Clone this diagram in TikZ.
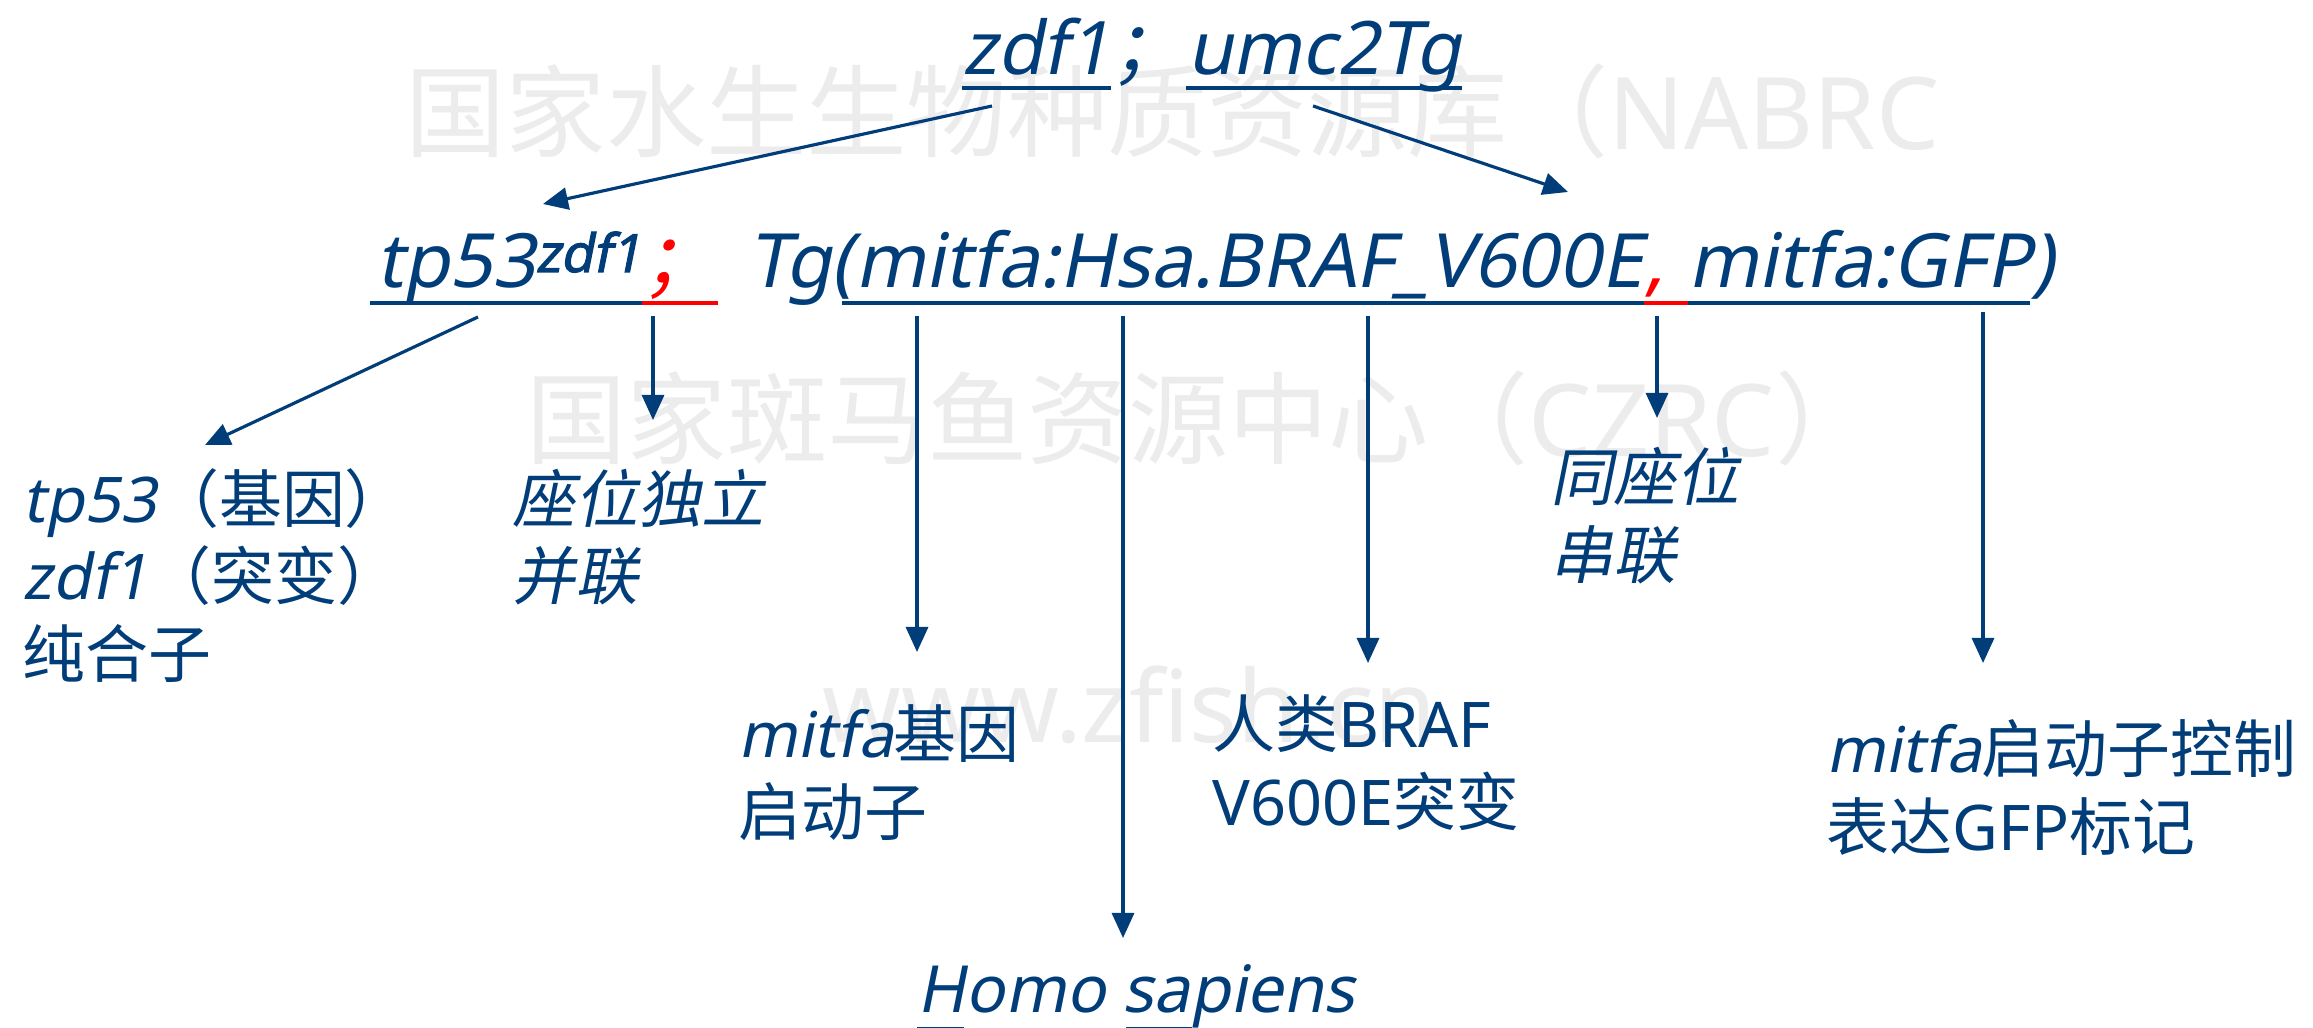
\documentclass[tikz,border=0pt]{standalone}
\usepackage{fontspec}
\setmainfont{Noto Sans}
\newfontfamily\itl{Noto Sans}[FakeSlant=0.2]
\newfontfamily\itlb{Noto Sans}[FakeSlant=0.2,FakeBold=2]
\newfontfamily\zh{Noto Sans CJK SC}
\newfontfamily\zhit{Noto Sans CJK SC}[FakeSlant=0.2]
\usetikzlibrary{arrows.meta}
\definecolor{navy}{RGB}{0,61,121}
\definecolor{wm}{RGB}{236,236,236}
\tikzstyle{txt}=[inner sep=0pt,anchor=base west,text=navy]
\tikzstyle{hd}=[txt,font=\fontsize{21}{24}\selectfont]
\tikzstyle{ln}=[txt,font=\fontsize{21.3}{25}\selectfont]
\tikzstyle{lbl}=[txt,align=left,font=\fontsize{17.9}{21.9}\selectfont]
\tikzstyle{wmark}=[inner sep=0pt,anchor=base west,text=wm,
                   font=\fontsize{28.5}{30}\selectfont]
\tikzstyle{uline}=[navy,line width=1.1pt]
\tikzstyle{arr}=[navy,line width=0.9pt,
                 -{Triangle[length=0.25cm,width=0.22cm]}]
\begin{document}
\begin{tikzpicture}[x=0.01cm,y=-0.01cm]
    \newcommand{\ud}{-0.15cm}
    \fill[white] (0,0) rectangle (2313,1028);
    \useasboundingbox (0,0) rectangle (2313,1028);
    % watermark
    \node (w1) at (405,150) [wmark] {\zh 国家水生生物种质资源库（\rmfamily NABRC};
    \node (w2) at (526,457) [wmark] {\zh 国家斑马鱼资源中心（\rmfamily CZRC\zh ）};
    \node (w3) at (822,742) [wmark] {www.zfish.cn};
    % top line
    \node (zdf) at (962,75) [hd] {\itl zdf1};
    \node (tsemi) at (zdf.base east) [hd] {\zhit ；};
    \node (umc) at (tsemi.base east) [hd] {\itl umc2Tg};
    \draw[uline] ([yshift=-0.13cm]zdf.base west) -- ([yshift=-0.13cm]zdf.base east);
    \draw[uline] ([yshift=-0.13cm]umc.base west) -- ([yshift=-0.13cm]umc.base east);
    % second line
    \node (tp) at (376,288) [ln] {\itl tp53\raisebox{0.16cm}{\fontsize{15}{16}\selectfont\itlb zdf1}};
    \node (semi) at (tp.base east) [ln,text=red] {\zhit ；};
    \node (tgo) at (748,288) [ln] {\itl Tg(};
    \node (braf) at (tgo.base east) [ln] {\itl mitfa:Hsa.BRAF\_V600E};
    \node (cm) at (braf.base east) [ln,text=red] {\itl ,\kern0.3em};
    \node (gfp) at (cm.base east) [ln] {\itl mitfa:GFP)};
    \draw[uline] ([xshift=-0.06cm,yshift=\ud]tp.base west) -- ([yshift=\ud]tp.base east);
    \draw[uline,red] ([yshift=\ud]semi.base west) -- ([yshift=\ud]semi.base east);
    \draw[uline] ([xshift=-0.12cm,yshift=\ud]braf.base west) -- ([yshift=\ud]braf.base east);
    \draw[uline,red] ([yshift=\ud]cm.base west) -- ([yshift=\ud]cm.base east);
    \draw[uline] ([yshift=\ud]gfp.base west) -- ([xshift=-0.25cm,yshift=\ud]gfp.base east);
    % labels (base = last line)
    \node (gene) at (22,677) [lbl] {\itl tp53\zh （基因）\\\itl zdf1\zh （突变）\\\zh 纯合子};
    \node (indep) at (512,600) [lbl] {\zhit 座位独立\\\zhit 并联};
    \node (prom) at (738,835) [lbl] {\itl mitfa\zh 基因\\\zh 启动子};
    \node (human) at (1212,825) [lbl] {\zh 人类\rmfamily BRAF\\\rmfamily V600E\zh 突变};
    \node (tandem) at (1550,578) [lbl] {\zhit 同座位\\\zhit 串联};
    \node (mark) at (1826,850) [lbl] {\itl mitfa\zh 启动子控制\\\zh 表达\rmfamily GFP\zh 标记};
    \node (homo) at (917,1012) [txt,font=\fontsize{18.5}{20}\selectfont] {\itl Homo sapiens};
    \draw[uline] ([yshift=-0.165cm]homo.base west) -- ++(0.47cm,0);
    \draw[uline] ([xshift=2.09cm,yshift=-0.165cm]homo.base west) -- ++(0.66cm,0);
    % arrows
    \coordinate (s1) at (992,106);  \coordinate (e1) at (543,204);
    \coordinate (s2) at (1313,106); \coordinate (e2) at (1568,192);
    \coordinate (s3) at (478,317);  \coordinate (e3) at (205,445);
    \coordinate (s4) at (653,316);  \coordinate (e4) at (653,420);
    \coordinate (s5) at (917,316);  \coordinate (e5) at (917,652);
    \coordinate (s6) at (1123,316); \coordinate (e6) at (1123,938);
    \coordinate (s7) at (1368,316); \coordinate (e7) at (1368,663);
    \coordinate (s8) at (1657,316); \coordinate (e8) at (1657,418);
    \coordinate (s9) at (1983,312); \coordinate (e9) at (1983,663);
    \foreach \i in {1,...,9}
        \draw[arr] (s\i) -- (e\i);
\end{tikzpicture}
\end{document}
